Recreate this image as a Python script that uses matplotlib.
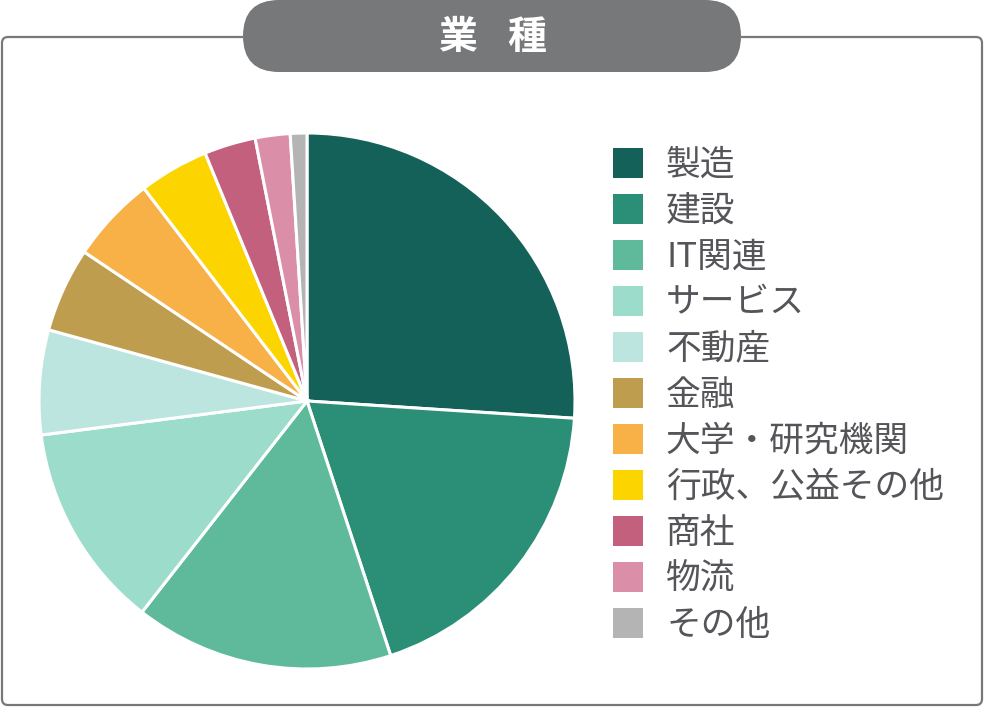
import matplotlib.pyplot as plt
from matplotlib.patches import FancyBboxPatch, Rectangle

plt.rcParams['font.family'] = ['Noto Sans CJK JP', 'DejaVu Sans']

# data (percent)
labels = ['製造', '建設', 'IT関連', 'サービス', '不動産', '金融',
          '大学・研究機関', '行政、公益その他', '商社', '物流', 'その他']
shares = [26.0, 18.9, 15.6, 12.4, 6.3, 5.1, 5.2, 4.2, 3.1, 2.1, 1.0]
colors = ['#136158', '#2b8e76', '#5fba9b', '#9cdccb', '#bce5e0', '#bf9d4f',
          '#f7b147', '#fcd400', '#c2607e', '#db8ea8', '#b5b4b5']
title = ['業', '種']

W, H = 984, 707
fig = plt.figure(figsize=(W / 100, H / 100), dpi=100)
ax = fig.add_axes([0, 0, 1, 1])

grey = '#77787a'

# outer frame
frame = FancyBboxPatch((2, 2), 980, 668, boxstyle='round,pad=0,rounding_size=6',
                       fc='white', ec=grey, lw=1.6, zorder=0)
ax.add_patch(frame)

# title pill
pill = FancyBboxPatch((243, 635), 498, 72, boxstyle='round,pad=0,rounding_size=36',
                      fc=grey, ec='none', zorder=1)
ax.add_patch(pill)
ax.text(458, 669, title[0], color='white', fontsize=28, fontweight='bold',
        ha='center', va='center', zorder=2)
ax.text(527, 669, title[1], color='white', fontsize=28, fontweight='bold',
        ha='center', va='center', zorder=2)

# pie
ax.pie(shares, colors=colors, startangle=90, counterclock=False,
       center=(307, 306), radius=268, frame=True,
       wedgeprops=dict(edgecolor='white', linewidth=2.2))
ax.set_xlim(0, W)
ax.set_ylim(0, H)
ax.set_aspect('equal')
ax.axis('off')

# legend
for i, (lab, col) in enumerate(zip(labels, colors)):
    yc = H - (163 + 46 * i)
    ax.add_patch(Rectangle((613, yc - 15), 30, 30, fc=col, ec='none'))
    ax.text(666, yc - 2, lab, color='#545459', fontsize=25, ha='left', va='center')

fig.savefig('out.png', dpi=100)
